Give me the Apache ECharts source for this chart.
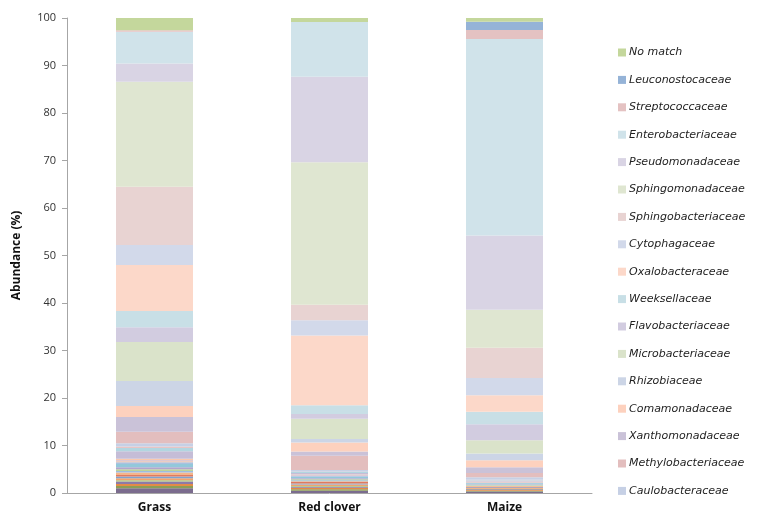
<!DOCTYPE html>
<html>
<head>
<meta charset="utf-8">
<script src="https://cdn.jsdelivr.net/npm/echarts@6/dist/echarts.min.js"></script>
<style>html,body{margin:0;padding:0;background:#fff}#c{width:760px;height:523px}</style>
</head>
<body>
<div id="c"></div>
<script>
const categories = ["Grass", "Red clover", "Maize"];
const yTicks = [0, 10, 20, 30, 40, 50, 60, 70, 80, 90, 100];

// Unlabelled minor families at the bottom of each bar (bottom first)
const otherGrass = [1.0, 0.5, 0.4, 0.5, 0.3, 0.4, 0.4, 0.3, 0.5, 0.35, 0.35, 0.4, 0.7, 0.4, 0.2, 0.2, 0.3, 1.6, 0.7, 0.3];
const otherRedClover = [0.5, 0.3, 0.3, 0.2, 0.2, 0.3, 0.2, 0.3, 0.2, 0.2, 0.2, 0.2, 0.3, 0.2, 0.1, 0.1, 0.1, 0.3, 0.2, 0.1];
const otherMaize = [0.3, 0.15, 0.2, 0.15, 0.1, 0.15, 0.15, 0.1, 0.2, 0.1, 0.15, 0.1, 0.2, 0.1, 0.1, 0.1, 0.05, 0.2, 0.1, 0.1];
const otherColors = ["#7b6c8e", "#8c9d55", "#e38b47", "#8d7aa8", "#a8c47a", "#f0a36e", "#7fa2cf", "#e07a5f", "#f5b48a", "#9dbde0",
                     "#bdd49a", "#b3a5cc", "#93c8da", "#a9c1e0", "#f8c4a5", "#c2b6d6", "#f9c9ae", "#c5bdd7", "#b2d6e0", "#e8c4c4"];

// Named families (bottom first): [Grass, Red clover, Maize]
const families = ["Caulobacteraceae", "Methylobacteriaceae", "Xanthomonadaceae", "Comamonadaceae", "Rhizobiaceae",
                  "Microbacteriaceae", "Flavobacteriaceae", "Weeksellaceae", "Oxalobacteraceae", "Cytophagaceae",
                  "Sphingobacteriaceae", "Sphingomonadaceae", "Pseudomonadaceae", "Enterobacteriaceae",
                  "Streptococcaceae", "Leuconostocaceae", "No match"];
const Caulobacteraceae = [0.7, 0.35, 0.5];
const Methylobacteriaceae = [2.4, 3.0, 0.9];
const Xanthomonadaceae = [3.1, 0.9, 1.2];
const Comamonadaceae = [2.3, 1.9, 1.5];
const Rhizobiaceae = [5.3, 0.7, 1.4];
const Microbacteriaceae = [8.2, 4.3, 2.8];
const Flavobacteriaceae = [3.1, 1.0, 3.4];
const Weeksellaceae = [3.4, 1.8, 2.6];
const Oxalobacteraceae = [9.7, 14.7, 3.5];
const Cytophagaceae = [4.2, 3.2, 3.6];
const Sphingobacteriaceae = [12.3, 3.3, 6.4];
const Sphingomonadaceae = [22.1, 30.0, 8.0];
const Pseudomonadaceae = [3.8, 18.0, 15.6];
const Enterobacteriaceae = [6.7, 11.5, 41.4];
const Streptococcaceae = [0.3, 0, 1.9];
const Leuconostocaceae = [0, 0, 1.7];
const NoMatch = [2.7, 0.9, 0.9];
const familyValues = [Caulobacteraceae, Methylobacteriaceae, Xanthomonadaceae, Comamonadaceae, Rhizobiaceae,
  Microbacteriaceae, Flavobacteriaceae, Weeksellaceae, Oxalobacteraceae, Cytophagaceae, Sphingobacteriaceae,
  Sphingomonadaceae, Pseudomonadaceae, Enterobacteriaceae, Streptococcaceae, Leuconostocaceae, NoMatch];
const familyColors = ["#c6d0e5", "#e3bebe", "#cac2d8", "#fdd1be", "#ccd5e6", "#dae3ca", "#d2cce0", "#c8dfe6",
  "#fcd8c9", "#d2d9ea", "#e8d3d2", "#dfe6d1", "#d9d4e4", "#d0e3ea", "#e4c2c2", "#95b3d7", "#c4d79c"];

const series = [];
otherColors.forEach((c, i) => {
  series.push({
    name: "other" + (i + 1), type: "bar", stack: "s", barWidth: 77,
    data: [otherGrass[i], otherRedClover[i], otherMaize[i]],
    itemStyle: { color: c }
  });
});
families.forEach((f, i) => {
  series.push({
    name: f, type: "bar", stack: "s", barWidth: 77,
    data: familyValues[i],
    itemStyle: { color: familyColors[i] }
  });
});

const chart = echarts.init(document.getElementById("c"), null, { renderer: "canvas" });
chart.setOption({
  animation: false,
  backgroundColor: "#fff",
  grid: { left: 67, right: 168, top: 18, bottom: 30 },
  legend: {
    data: families.slice().reverse(),
    orient: "vertical",
    left: 613, top: 41, bottom: 0,
    itemWidth: 8, itemHeight: 8, itemGap: 14.4,
    icon: "rect",
    textStyle: { fontFamily: "DejaVu Sans", fontStyle: "italic", fontSize: 11, color: "#222", lineHeight: 13, padding: [0, 0, 0, -2] }
  },
  xAxis: {
    type: "category", data: categories,
    axisLine: { lineStyle: { color: "#a6a6a6", width: 1 } },
    axisTick: { show: false },
    axisLabel: { fontFamily: "Open Sans", fontWeight: "bold", fontSize: 12, color: "#111", margin: 9 }
  },
  yAxis: {
    type: "value", min: yTicks[0], max: yTicks[yTicks.length - 1], interval: 10,
    name: "Abundance (%)", nameLocation: "middle", nameGap: 44, nameRotate: 90,
    nameTextStyle: { fontFamily: "Open Sans", fontWeight: "bold", fontSize: 12, color: "#111" },
    axisLine: { show: true, lineStyle: { color: "#a6a6a6", width: 1 } },
    axisTick: { show: true, length: 5, lineStyle: { color: "#a6a6a6" } },
    splitLine: { show: false },
    axisLabel: { fontFamily: "Open Sans", fontSize: 11, color: "#333", margin: 11 }
  },
  series: series
});
</script>
</body>
</html>
